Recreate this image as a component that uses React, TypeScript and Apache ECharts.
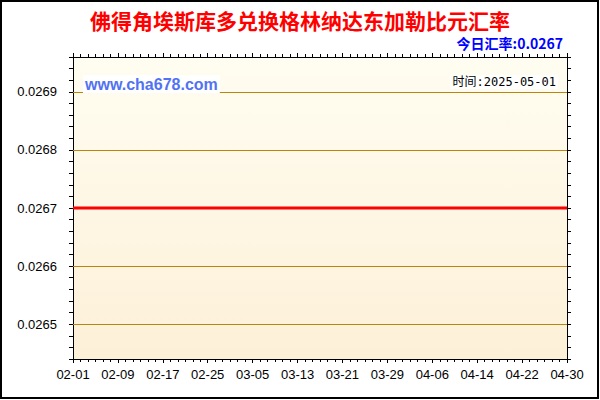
import { useEffect, useRef } from 'react';
import * as echarts from 'echarts';

// x positions are days counted from 02-01, one tick label every 8 days
const tickDays = [0, 8, 16, 24, 32, 40, 48, 56, 64, 72, 80, 88];
const tickLabels = ['02-01', '02-09', '02-17', '02-25', '03-05', '03-13', '03-21', '03-29', '04-06', '04-14', '04-22', '04-30'];
const rates = [0.0267, 0.0267, 0.0267, 0.0267, 0.0267, 0.0267, 0.0267, 0.0267, 0.0267, 0.0267, 0.0267, 0.0267];

const yTickValues = [0.0265, 0.0266, 0.0267, 0.0268, 0.0269];
const yTickLabels = ['0.0265', '0.0266', '0.0267', '0.0268', '0.0269'];

const titleText = '佛得角埃斯库多兑换格林纳达东加勒比元汇率';
const todayText = '今日汇率:0.0267';
const dateText = '时间:2025-05-01';
const siteText = 'www.cha678.com';

const App = () => {
    const chartRef = useRef<HTMLDivElement>(null);

    useEffect(() => {
        if (!chartRef.current) return;
        const chart = echarts.init(chartRef.current, null, { renderer: 'svg' });

        const tickStyle = { show: true, inside: false, length: 4, lineStyle: { color: '#000', width: 1 } };
        const lineStyle = { show: true, onZero: false, lineStyle: { color: '#000', width: 1 } };

        const xBase = {
            type: 'value' as const,
            min: 0,
            max: 88,
            interval: 8,
            splitLine: { show: false },
            axisLine: lineStyle,
            axisTick: tickStyle,
            minorTick: { show: true, splitNumber: 6, length: 3, lineStyle: { color: '#000', width: 1 } },
        };
        const yBase = {
            type: 'value' as const,
            min: 0.02644,
            max: 0.02696,
            interval: 0.00002,
            splitLine: { show: false },
            axisLine: lineStyle,
            axisTick: tickStyle,
        };

        chart.setOption({
            animation: false,
            backgroundColor: '#fff',
            title: {
                text: titleText,
                left: 'center',
                top: 8,
                padding: 0,
                textStyle: {
                    color: '#ff0000',
                    fontSize: 21,
                    lineHeight: 24,
                    fontWeight: 'bold',
                    fontFamily: '"Noto Sans CJK SC", sans-serif',
                },
            },
            grid: {
                left: 73,
                right: 33,
                top: 57,
                bottom: 41,
                show: true,
                borderWidth: 0,
                backgroundColor: new echarts.graphic.LinearGradient(0, 0, 0, 1, [
                    { offset: 0, color: '#FFFDF1' },
                    { offset: 1, color: '#FDF0D8' },
                ]),
            },
            xAxis: [
                {
                    ...xBase,
                    position: 'bottom',
                    axisLabel: {
                        color: '#000',
                        fontSize: 13,
                        margin: 9,
                        fontFamily: '"Liberation Sans", Arial, sans-serif',
                        formatter: (v: number) => tickLabels[tickDays.indexOf(Math.round(v))] ?? '',
                    },
                },
                { ...xBase, position: 'top', axisLabel: { show: false } },
            ],
            yAxis: [
                {
                    ...yBase,
                    position: 'left',
                    axisLabel: {
                        color: '#000',
                        fontSize: 13,
                        margin: 16,
                        fontFamily: '"Liberation Sans", Arial, sans-serif',
                        formatter: (v: number) => {
                            const i = yTickValues.findIndex((t) => Math.abs(t - v) < 1e-9);
                            return i >= 0 ? yTickLabels[i] : '';
                        },
                    },
                },
                { ...yBase, position: 'right', axisLabel: { show: false } },
            ],
            series: [
                {
                    type: 'line',
                    name: 'grid',
                    xAxisIndex: 0,
                    yAxisIndex: 0,
                    data: [],
                    symbol: 'none',
                    markLine: {
                        silent: true,
                        symbol: ['none', 'none'],
                        animation: false,
                        label: { show: false },
                        lineStyle: { color: '#B8860B', width: 1, type: 'solid' },
                        data: yTickValues.map((v) => [
                            { coord: [0, v] },
                            { coord: [88, v] },
                        ]),
                    },
                },
                {
                    type: 'line',
                    name: 'rate',
                    xAxisIndex: 0,
                    yAxisIndex: 0,
                    data: tickDays.map((d, i) => [d, rates[i]]),
                    symbol: 'none',
                    lineStyle: { color: '#ff0000', width: 3 },
                    z: 5,
                },
            ],
            graphic: [
                {
                    type: 'text',
                    z: 100,
                    right: 37,
                    top: 35,
                    style: {
                        text: todayText,
                        fill: '#0000ff',
                        fontSize: 14,
                        lineHeight: 15,
                        fontWeight: 'bold',
                        fontFamily: '"Noto Sans CJK SC", sans-serif',
                    },
                },
                {
                    type: 'text',
                    z: 100,
                    left: 83,
                    top: 75,
                    style: {
                        text: siteText,
                        fill: '#5272f2',
                        fontSize: 16,
                        fontWeight: 'bold',
                        fontFamily: '"Liberation Sans", Arial, sans-serif',
                        backgroundColor: '#fff',
                        padding: [1, 2, 1, 2],
                    },
                },
                {
                    type: 'text',
                    z: 100,
                    right: 42,
                    top: 75,
                    style: {
                        text: dateText,
                        fill: '#000',
                        fontSize: 12,
                        fontFamily: '"DejaVu Sans Mono", "Noto Sans CJK SC", monospace',
                        backgroundColor: '#fff',
                        padding: [1, 2, 1, 2],
                    },
                },
                {
                    type: 'rect',
                    z: 100,
                    shape: { x: 1, y: 1, width: 597, height: 397 },
                    style: { fill: 'none', stroke: '#000', lineWidth: 2 },
                },
            ],
        });

        return () => {
            chart.dispose();
        };
    }, []);

    return (
        <div
            ref={chartRef}
            style={{ position: 'absolute', left: 0, top: 0, width: '600px', height: '400px' }}
        />
    );
};

export default App;
